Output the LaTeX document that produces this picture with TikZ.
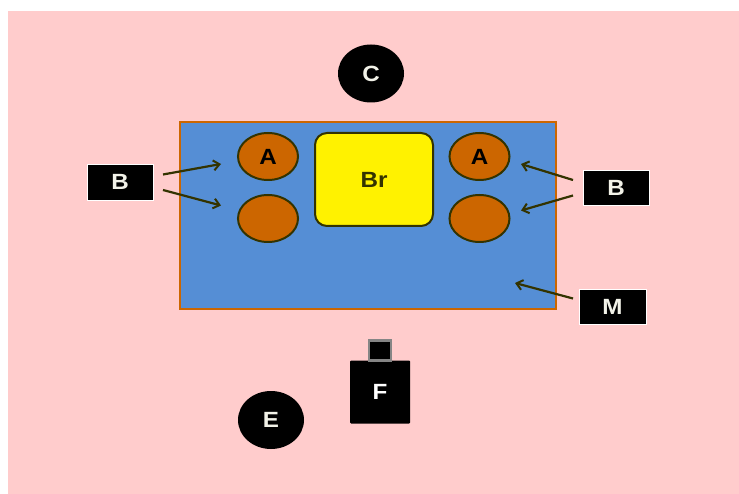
\documentclass[tikz,border=0pt]{standalone}
\usepackage{fontspec}
\setmainfont{Liberation Sans}
\usetikzlibrary{shapes.geometric,arrows.meta}
\definecolor{bgpink}{HTML}{FFCCCC}
\definecolor{mblue}{HTML}{558ED5}
\definecolor{morange}{HTML}{CC6600}
\definecolor{olive}{HTML}{333300}
\definecolor{offwhite}{HTML}{F2F2E8}
\definecolor{capgray}{HTML}{858585}
\tikzset{
  lbl/.style={font=\fontsize{22}{22}\selectfont\bfseries},
  blackbox/.style={rectangle, fill=black, draw=white, line width=0.8pt, text=offwhite, lbl, inner sep=0pt},
  blackell/.style={ellipse, fill=black, text=offwhite, lbl, inner sep=0pt, minimum width=66pt, minimum height=58pt},
  orell/.style={ellipse, fill=morange, draw=olive, line width=2pt, lbl, inner sep=0pt, minimum width=60pt, minimum height=47pt},
  ptr/.style={draw=olive, line width=2.2pt, -{Straight Barb[length=6pt,width=10pt,line width=2pt]}},
}
\newcommand\wt[1]{\scalebox{1.1}[1]{#1}}
\begin{document}
\begin{tikzpicture}[x=1pt,y=-1pt]
\useasboundingbox (0,0) rectangle (739,494);
\fill[white] (0,0) rectangle (739,494);
\fill[bgpink] (8,11) rectangle (739,494);
% main rectangle
\node[rectangle, fill=mblue, draw=morange, line width=2pt, minimum width=376pt, minimum height=187pt, inner sep=0pt] (main) at (368,215.5) {};
% ellipses
\node[orell] (a1) at (268,156.5) {\wt{A}};
\node[orell] (a2) at (268,218.5) {};
\node[orell] (a3) at (479.5,156.5) {\wt{A}};
\node[orell] (a4) at (479.5,218.5) {};
% Br
\node[rectangle, rounded corners=12pt, fill=yellow, draw=olive, line width=2pt, minimum width=118pt, minimum height=93pt, inner sep=0pt, text=olive, lbl] (br) at (374,179.5) {\wt{Br}};
% C and E
\node[blackell] (c) at (371,73.5) {\wt{C}};
\node[blackell] (e) at (271,420) {\wt{E}};
% F
\node[rectangle, fill=black, minimum width=60pt, minimum height=63pt, inner sep=0pt, text=white, lbl, rounded corners=1pt] (f) at (380,392) {\wt{F}};
\node[rectangle, fill=black, draw=capgray, line width=2.2pt, minimum width=22pt, minimum height=20pt, inner sep=0pt] (fcap) at (380,350.5) {};
% label boxes
\node[blackbox, minimum width=66pt, minimum height=36pt] (bl) at (120,182) {\wt{B}};
\node[blackbox, minimum width=66pt, minimum height=35pt] (br2) at (616,187.5) {\wt{B}};
\node[blackbox, minimum width=67pt, minimum height=35pt] (m) at (612.5,306.5) {\wt{M}};
% arrow coordinates
\coordinate (bl1) at (163,174.5);
\coordinate (bl2) at (163,190);
\coordinate (tl1) at (221,164);
\coordinate (tl2) at (221,205.5);
\coordinate (br1) at (573,180);
\coordinate (br3) at (573,195.5);
\coordinate (tr1) at (521,164);
\coordinate (tr2) at (521,210.5);
\coordinate (ms) at (573,298.5);
\coordinate (mt) at (515,283);
\draw[ptr] (bl1) -- (tl1);
\draw[ptr] (bl2) -- (tl2);
\draw[ptr] (br1) -- (tr1);
\draw[ptr] (br3) -- (tr2);
\draw[ptr] (ms) -- (mt);
\end{tikzpicture}
\end{document}
